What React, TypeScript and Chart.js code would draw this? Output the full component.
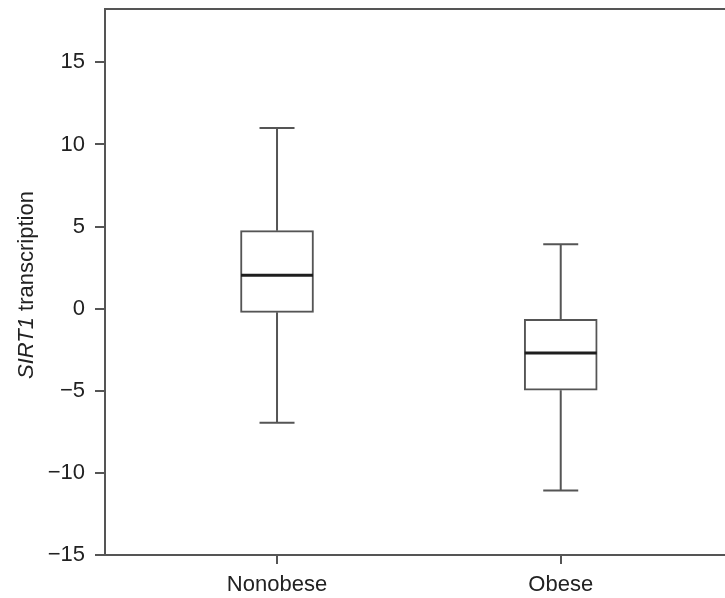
import React, { useEffect, useRef } from "react";
import { Chart, registerables } from "chart.js";

Chart.register(...registerables);

const categories = ["Nonobese", "Obese"];
const whiskerLow = [-6.95, -11.07];
const quartile1 = [-0.22, -4.96];
const medians = [2.04, -2.7];
const quartile3 = [4.75, -0.65];
const whiskerHigh = [11.0, 3.92];

const yTicks = [-15, -10, -5, 0, 5, 10, 15];
const yTitleItalic = "SIRT1";
const yTitleRest = " transcription";

const FONT = "'Liberation Sans', Arial, Helvetica, sans-serif";
const LINE = "#555555";
const TEXT = "#222222";

const boxPlugin = {
  id: "boxExtras",
  beforeDatasetsDraw(chart: any) {
    const { ctx, scales } = chart;
    const xs = scales.x;
    const ys = scales.y;
    ctx.save();
    ctx.strokeStyle = LINE;
    ctx.lineWidth = 2;
    categories.forEach((_, i) => {
      const cx = xs.getPixelForValue(i);
      const capHalf = 17.5;
      const yHi = ys.getPixelForValue(whiskerHigh[i]);
      const yQ3 = ys.getPixelForValue(quartile3[i]);
      const yQ1 = ys.getPixelForValue(quartile1[i]);
      const yLo = ys.getPixelForValue(whiskerLow[i]);
      ctx.beginPath();
      ctx.moveTo(cx, yHi);
      ctx.lineTo(cx, yQ3);
      ctx.moveTo(cx, yQ1);
      ctx.lineTo(cx, yLo);
      ctx.moveTo(cx - capHalf, yHi);
      ctx.lineTo(cx + capHalf, yHi);
      ctx.moveTo(cx - capHalf, yLo);
      ctx.lineTo(cx + capHalf, yLo);
      ctx.stroke();
    });
    ctx.restore();
  },
  afterDatasetsDraw(chart: any) {
    const { ctx, scales } = chart;
    const xs = scales.x;
    const ys = scales.y;
    ctx.save();
    ctx.strokeStyle = "#1e1e1e";
    ctx.lineWidth = 3;
    categories.forEach((_, i) => {
      const cx = xs.getPixelForValue(i);
      const half = 36;
      const ym = ys.getPixelForValue(medians[i]);
      ctx.beginPath();
      ctx.moveTo(cx - half, ym);
      ctx.lineTo(cx + half, ym);
      ctx.stroke();
    });
    ctx.restore();
  },
  afterDraw(chart: any) {
    const { ctx, chartArea } = chart;
    ctx.save();
    ctx.strokeStyle = LINE;
    ctx.lineWidth = 2;
    ctx.beginPath();
    ctx.moveTo(chartArea.left - 1, chartArea.top);
    ctx.lineTo(chartArea.right, chartArea.top);
    ctx.stroke();
    const cy = (chartArea.top + chartArea.bottom) / 2 + 3;
    ctx.translate(33, cy);
    ctx.rotate(-Math.PI / 2);
    ctx.fillStyle = TEXT;
    ctx.textBaseline = "alphabetic";
    ctx.textAlign = "left";
    const italicFont = `italic 22px ${FONT}`;
    const normalFont = `22px ${FONT}`;
    ctx.font = italicFont;
    const w1 = ctx.measureText(yTitleItalic).width;
    ctx.font = normalFont;
    const w2 = ctx.measureText(yTitleRest).width;
    const start = -(w1 + w2) / 2;
    ctx.font = italicFont;
    ctx.fillText(yTitleItalic, start, 0);
    ctx.font = normalFont;
    ctx.fillText(yTitleRest, start + w1, 0);
    ctx.restore();
  },
};

function App() {
  const ref = useRef<HTMLCanvasElement | null>(null);
  useEffect(() => {
    if (!ref.current) return;
    const chart = new Chart(ref.current, {
      type: "bar",
      data: {
        datasets: [
          {
            data: categories.map((_, i) => ({ x: i, y: [quartile1[i], quartile3[i]] })) as any,
            backgroundColor: "#ffffff",
            borderColor: LINE,
            borderWidth: 2,
            borderSkipped: false,
            barThickness: 73,
          },
        ],
      },
      options: {
        responsive: false,
        animation: false,
        layout: { padding: { top: 9, left: 0, right: 0, bottom: 0 } },
        plugins: { legend: { display: false }, tooltip: { enabled: false } },
        scales: {
          x: {
            type: "linear",
            position: "bottom",
            offset: false,
            min: -0.6063,
            max: 1.579,
            afterBuildTicks: (s: any) => {
              s.ticks = categories.map((_, i) => ({ value: i }));
            },
            afterFit: (s: any) => {
              s.height = 43;
              s.paddingLeft = 0;
              s.paddingRight = 0;
            },
            grid: {
              offset: false,
              drawOnChartArea: false,
              drawTicks: true,
              tickLength: 9,
              color: LINE,
              lineWidth: 2,
            },
            border: { display: true, color: LINE, width: 2 },
            ticks: {
              autoSkip: false,
              maxRotation: 0,
              padding: 8,
              color: TEXT,
              font: { family: FONT, size: 22 },
              callback: (v: any) => categories[Math.round(Number(v))] ?? "",
            },
          },
          y: {
            type: "linear",
            min: -15,
            max: 18.25,
            afterBuildTicks: (s: any) => {
              s.ticks = yTicks.map((v) => ({ value: v }));
            },
            afterFit: (s: any) => {
              s.width = 105;
              s.paddingTop = 0;
              s.paddingBottom = 0;
            },
            grid: {
              drawOnChartArea: false,
              drawTicks: true,
              tickLength: 10,
              color: LINE,
              lineWidth: 2,
            },
            border: { display: true, color: LINE, width: 2 },
            ticks: {
              padding: 10,
              color: TEXT,
              font: { family: FONT, size: 22 },
              callback: (v: any) => {
                const n = Number(v);
                return n < 0 ? "\u2212" + Math.abs(n) : String(n);
              },
            },
          },
        },
      },
      plugins: [boxPlugin],
    });
    return () => chart.destroy();
  }, []);
  return (
    <div style={{ position: "fixed", left: 0, top: 0, width: 725, height: 598, background: "#fff" }}>
      <canvas ref={ref} width={725} height={598} style={{ display: "block" }} />
    </div>
  );
}

export default App;
